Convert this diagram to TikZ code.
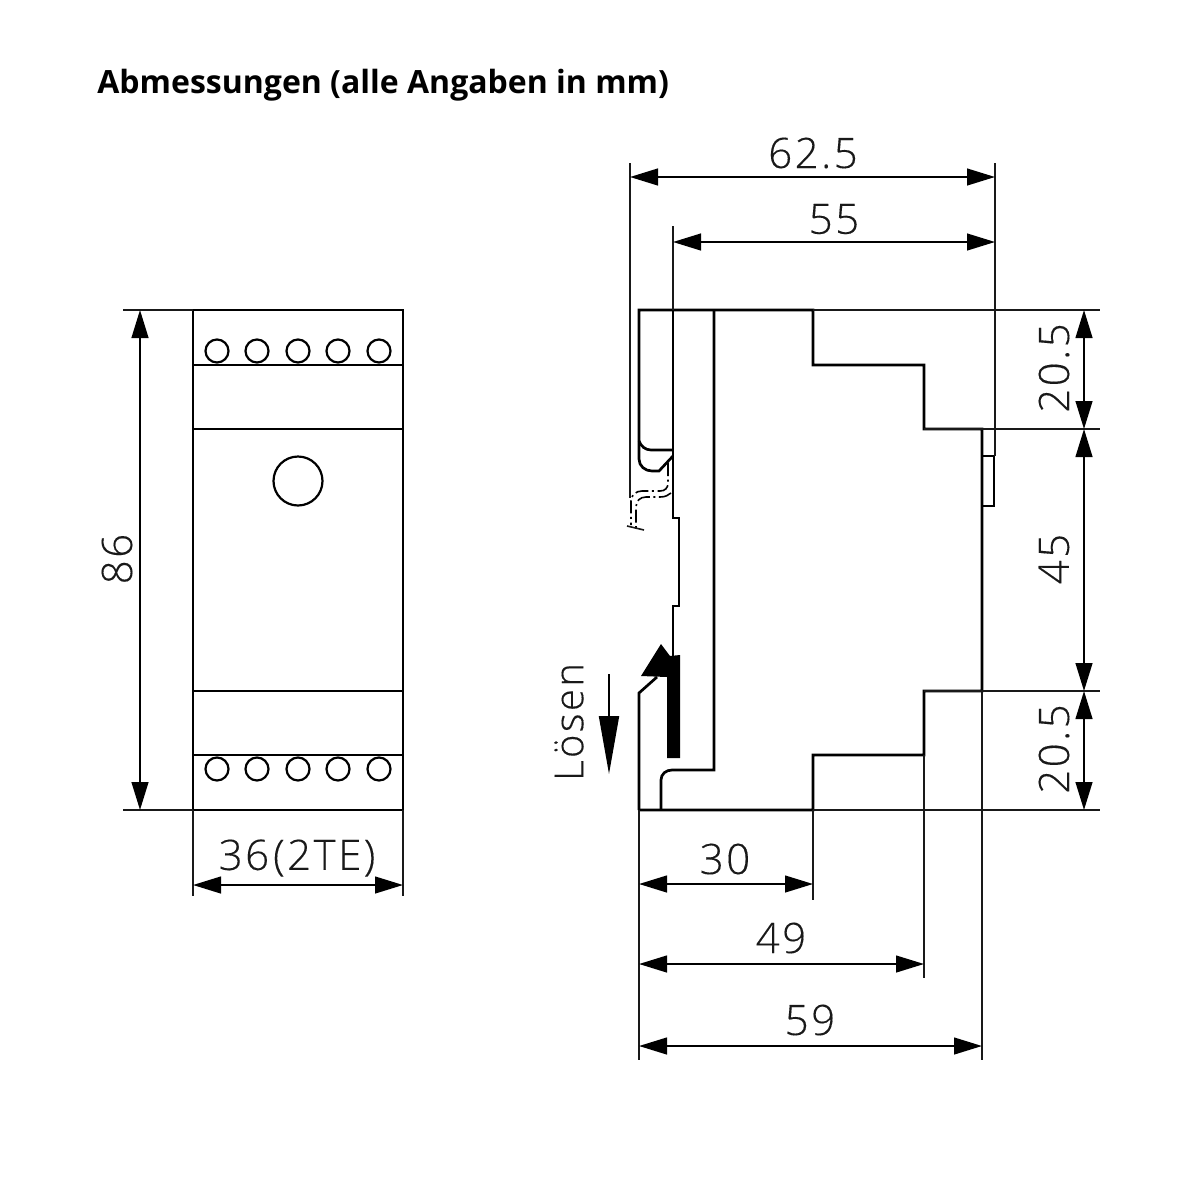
\documentclass[tikz,border=0pt]{standalone}
\usepackage{fontspec}
\setmainfont{Open Sans}
\newfontfamily\dimfont[LetterSpace=6,FakeBold=0.25]{Open Sans Light}
\usetikzlibrary{arrows.meta}
\tikzset{
  body/.style={draw=black,line width=1.35pt,line join=miter},
  thin line/.style={draw=black!90,line width=1pt},
  dimline/.style={draw=black,line width=0.95pt,{Triangle[length=14pt,width=8.4pt]}-{Triangle[length=14pt,width=8.4pt]}},
  dimtext/.style={font=\dimfont\fontsize{21}{24}\selectfont,inner sep=0pt,text=black!90},
  dashline/.style={draw=black,line width=0.8pt,dash pattern=on 6.5pt off 1.8pt on 1pt off 1.8pt},
  pin/.style={draw=black,line width=1.1pt},
}
\begin{document}
\begin{tikzpicture}[x=0.5pt,y=-0.5pt]
\useasboundingbox (0,0) rectangle (1200,1200);
\fill[white] (0,0) rectangle (1200,1200);
\node[anchor=base west,inner sep=0pt,font=\bfseries\fontsize{16}{18}\selectfont] (title) at (97,93) {Abmessungen (alle Angaben in mm)};

% front view
\draw[body] (193,310) rectangle (403,810);
\foreach \y in {365,429,691,755} \draw[body] (193,\y) -- (403,\y);
\foreach \x in {217,257,298,338,379} {
  \draw[pin] (\x,351) circle (11.5);
  \draw[pin] (\x,769) circle (11.5);
}
\draw[pin] (298,481) circle (24.5);
\draw[thin line] (123,310) -- (193,310) (123,810) -- (193,810);
\draw[thin line] (193,810) -- (193,896) (403,810) -- (403,896);
\draw[dimline] (140,310) -- (140,810);
\draw[dimline] (193,885) -- (403,885);
\node[dimtext,rotate=90] (d86) at (117,559) {86};
\node[dimtext] (d36) at (297,858) {36\kern2pt(2TE)};

% side view outline
\draw[body] (639,810) -- (639,693) -- (657,677);
\draw[body] (639,810) -- (813,810) -- (813,755) -- (924,755) -- (924,691) -- (982,691) -- (982,429) -- (924,429) -- (924,365) -- (813,365) -- (813,310) -- (639,310)
  -- (639,459) .. controls (639,466) and (645,471) .. (652,471) -- (659,471) -- (673,456);
\draw[body] (639,441) .. controls (641,446) and (645,450) .. (651,450) -- (673,450);
\draw[body] (673,310) -- (673,518) -- (679,518) -- (679,606) -- (673,606) -- (673,656);
\draw[body] (714,310) -- (714,770) -- (672,770) .. controls (666,770) and (661,774) .. (661,780) -- (661,810);
\draw[body] (982,456) -- (994,456) -- (994,506) -- (982,506);
% release lever
\fill[black] (661,644) -- (670,656) -- (680,655) -- (680,758) -- (667,758) -- (667,677) -- (641,676) -- cycle;
% hidden rail
\draw[dashline] (668,463) -- (668,483) .. controls (668,488) and (665,491) .. (660,491) -- (642,491) .. controls (636,491) and (631,495) .. (631,501) -- (631,525);
\draw[dashline] (671,493) .. controls (668,495) and (666,497) .. (660,497) -- (646,497) .. controls (640,497) and (636,501) .. (636,507) -- (636,529);
\draw[thin line,line width=0.8pt] (627,526) -- (644,530);

% extension lines
\draw[thin line] (630,163) -- (630,498);
\draw[thin line] (673,226) -- (673,310);
\draw[thin line] (994.5,163) -- (994.5,456);
\draw[thin line] (813,310) -- (1100,310) (924,429) -- (1100,429) (924,691) -- (1100,691) (813,810) -- (1100,810);
\draw[thin line] (813,810) -- (813,900) (924,755) -- (924,978) (982,691) -- (982,1060) (639,810) -- (639,1060);

% dimensions
\draw[dimline] (630,177) -- (995,177);
\draw[dimline] (673,242) -- (995,242);
\draw[dimline] (1084,310) -- (1084,429);
\draw[dimline] (1084,429) -- (1084,691);
\draw[dimline] (1084,691) -- (1084,810);
\draw[dimline] (639,884) -- (813,884);
\draw[dimline] (639,964) -- (924,964);
\draw[dimline] (639,1046) -- (982,1046);
\node[dimtext] (d625) at (813,153) {62.5};
\node[dimtext] (d55) at (834,219) {55};
\node[dimtext,rotate=90] (d205a) at (1054,368) {20.5};
\node[dimtext,rotate=90] (d45) at (1054,559) {45};
\node[dimtext,rotate=90] (d205b) at (1054,749) {20.5};
\node[dimtext] (d30) at (725,859) {30};
\node[dimtext] (d49) at (781,938) {49};
\node[dimtext] (d59) at (810,1020) {59};

% Loesen
\node[dimtext,rotate=90,font=\dimfont\fontsize{20}{24}\selectfont] (loesen) at (569,722) {Lösen};
\draw[draw=black,line width=0.95pt,-{Triangle[length=29pt,width=10pt]}] (609,674) -- (609,774);
\end{tikzpicture}
\end{document}
